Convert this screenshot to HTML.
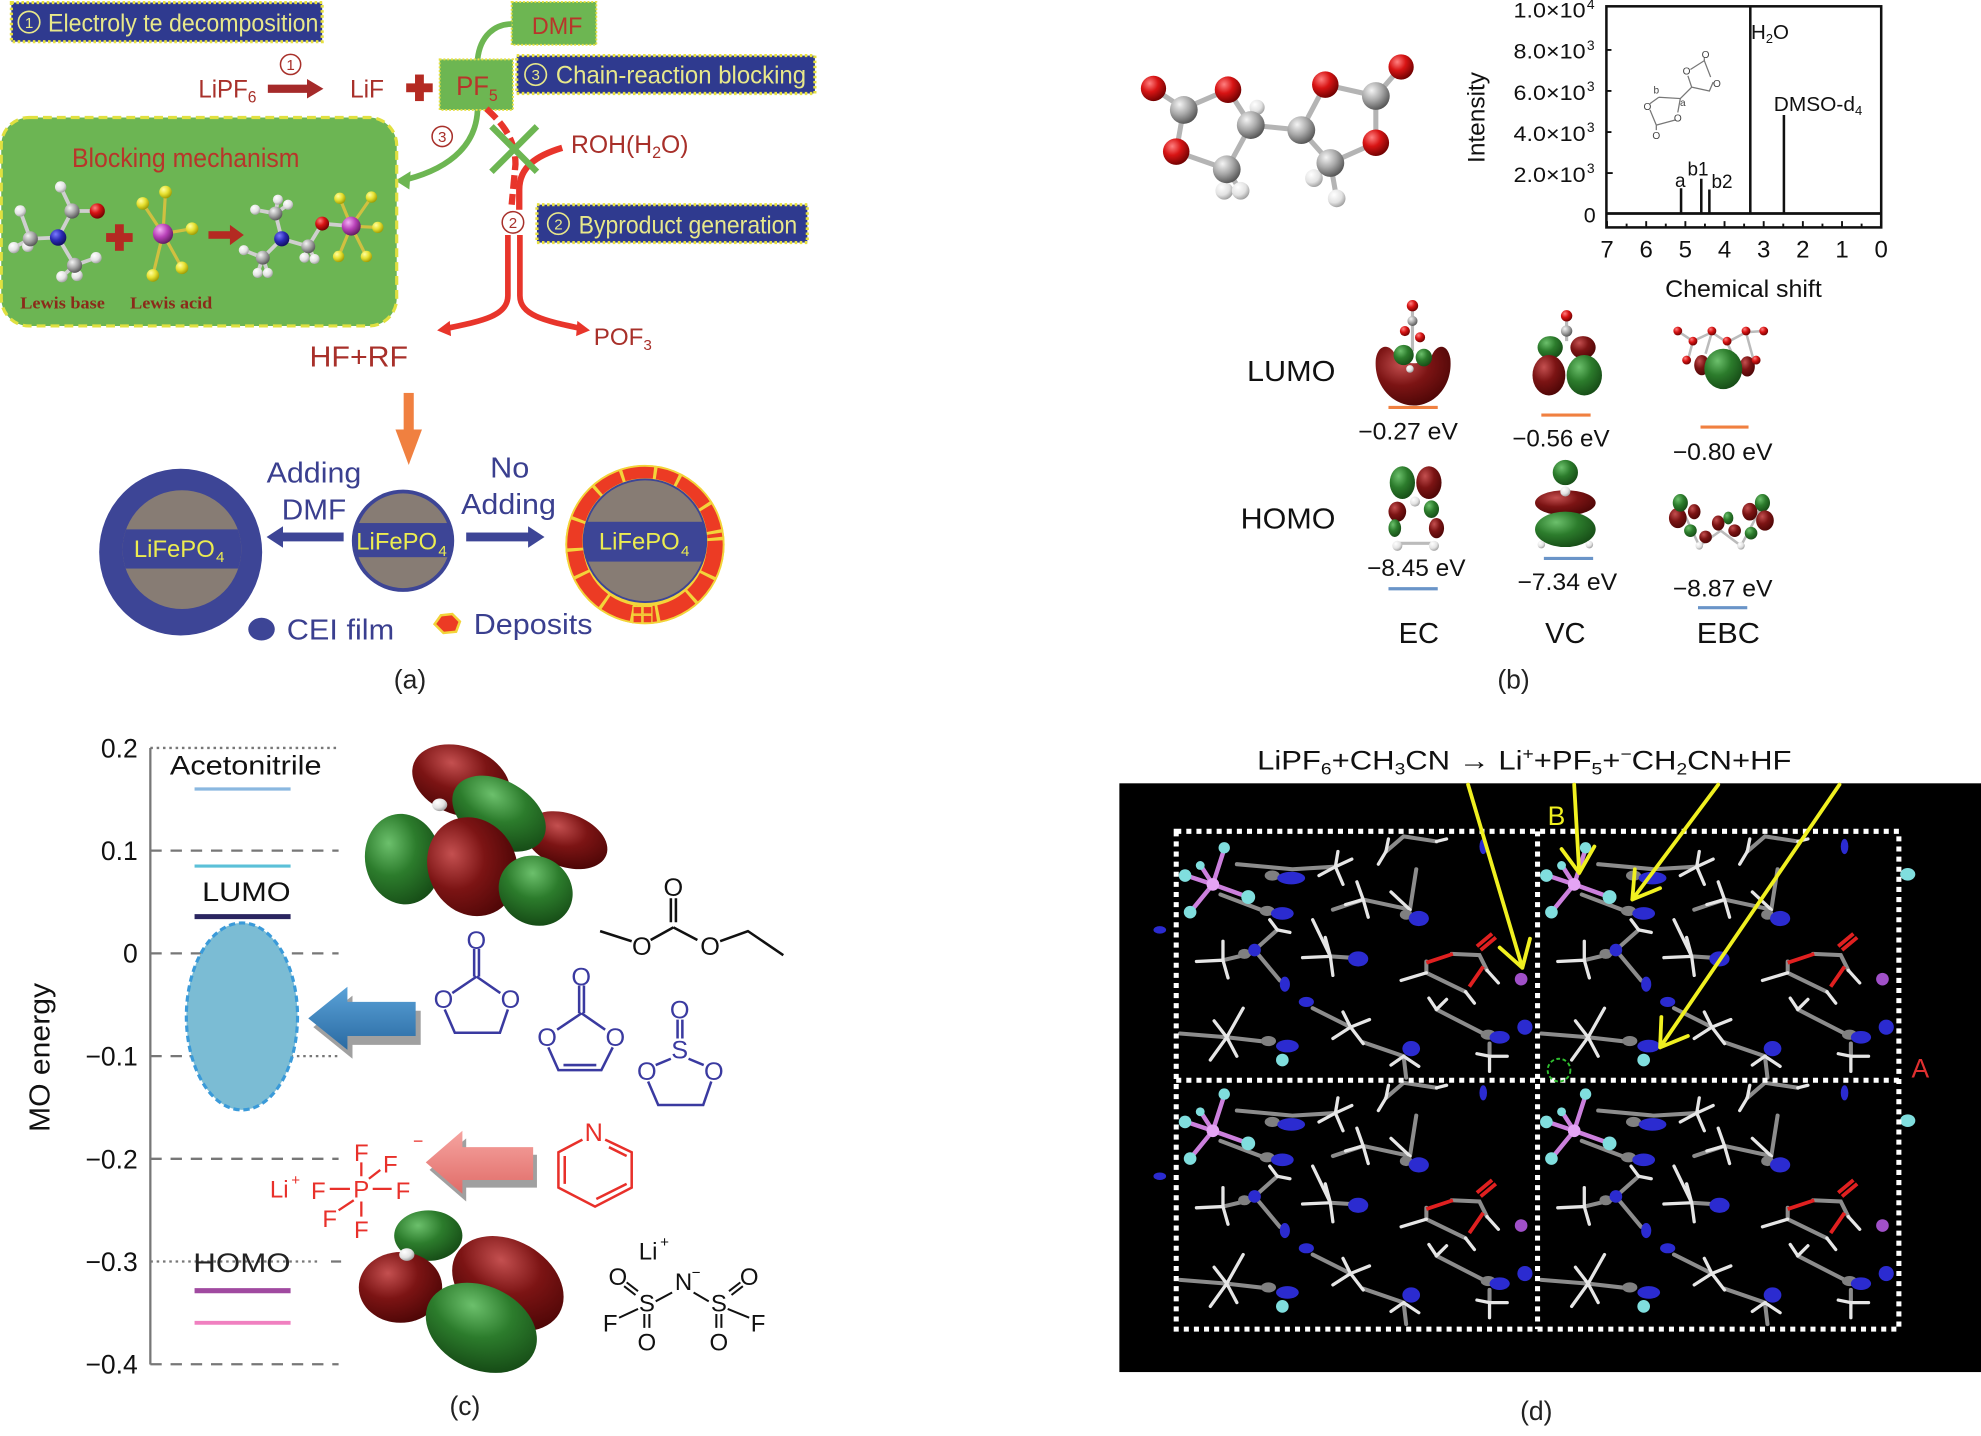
<!DOCTYPE html>
<html><head><meta charset="utf-8">
<style>
html,body{margin:0;padding:0;background:#fff;}
svg{display:block;}
text{font-family:"Liberation Sans",Arial,sans-serif;}
</style></head><body>
<svg width="1981" height="1436" viewBox="0 0 1568 1136.6" preserveAspectRatio="none" xmlns="http://www.w3.org/2000/svg">
<defs>
<radialGradient id="bR" cx="0.35" cy="0.3" r="0.75"><stop offset="0" stop-color="#ff8080"/><stop offset="0.45" stop-color="#d81414"/><stop offset="1" stop-color="#6a0000"/></radialGradient>
<radialGradient id="bG" cx="0.35" cy="0.3" r="0.75"><stop offset="0" stop-color="#f4f4f4"/><stop offset="0.5" stop-color="#a8a8a8"/><stop offset="1" stop-color="#505050"/></radialGradient>
<radialGradient id="bW" cx="0.35" cy="0.3" r="0.75"><stop offset="0" stop-color="#ffffff"/><stop offset="0.6" stop-color="#e2e2e2"/><stop offset="1" stop-color="#9a9a9a"/></radialGradient>
<radialGradient id="bY" cx="0.35" cy="0.3" r="0.75"><stop offset="0" stop-color="#ffffa0"/><stop offset="0.5" stop-color="#e6e030"/><stop offset="1" stop-color="#9a9600"/></radialGradient>
<radialGradient id="bM" cx="0.35" cy="0.3" r="0.75"><stop offset="0" stop-color="#f4b0f4"/><stop offset="0.5" stop-color="#b840b8"/><stop offset="1" stop-color="#5a1a5a"/></radialGradient>
<radialGradient id="bB" cx="0.35" cy="0.3" r="0.75"><stop offset="0" stop-color="#7a7aff"/><stop offset="0.5" stop-color="#2a2ab4"/><stop offset="1" stop-color="#0e0e5a"/></radialGradient>
<radialGradient id="oR" cx="0.35" cy="0.3" r="0.8"><stop offset="0" stop-color="#c45050"/><stop offset="0.45" stop-color="#7c1414"/><stop offset="1" stop-color="#460404"/></radialGradient>
<radialGradient id="oG" cx="0.35" cy="0.3" r="0.8"><stop offset="0" stop-color="#6cc06c"/><stop offset="0.45" stop-color="#2c7c2c"/><stop offset="1" stop-color="#134513"/></radialGradient>
<linearGradient id="aBlue" x1="0" y1="0" x2="0" y2="1"><stop offset="0" stop-color="#5aa2d8"/><stop offset="1" stop-color="#2a6aa2"/></linearGradient>
<linearGradient id="aPink" x1="0" y1="0" x2="0" y2="1"><stop offset="0" stop-color="#f6a4a0"/><stop offset="1" stop-color="#e06c68"/></linearGradient>
<clipPath id="cpMid"><circle cx="319" cy="428" r="38"/></clipPath>
<clipPath id="cpRight"><circle cx="510.5" cy="428" r="48.5"/></clipPath>
<clipPath id="cpLeft"><circle cx="144" cy="435" r="47"/></clipPath>

<g id="cell">
 <g stroke="#8c8c8c" stroke-width="3.2" stroke-linecap="round" fill="none">
  <path d="M48 26 L92 30 L126 28 M35 50 L72 64 M166 16 L180 4 L206 8 M124 62 L148 54 L185 62 M190 30 L185 62 M37 102 L58 97 M62 94 L80 78 M62 94 L82 118 M3 160 L40 163 L75 167 M108 140 L138 155 M148 167 L180 178 L182 195 M206 141 L243 160 M248 178 L248 168 M198 112 L229 127 M218 97 L240 98 L246 110 M198 103 L198 112 M122 99 L138 100"/>
 </g>
 <g stroke="#e6e6e6" stroke-width="2.6" stroke-linecap="round" fill="none">
  <path d="M126 28 L139 22 M126 28 L128 16 M126 28 L132 42 M126 28 L113 35 M166 16 L160 26 M166 16 L168 6 M206 8 L214 6 M148 54 L143 40 M148 54 L152 68 M148 54 L134 58 M185 62 L170 48 M37 102 L16 103 M37 102 L37 87 M37 102 L41 116 M80 78 L90 80 M80 78 L74 70 M122 99 L108 70 M122 99 L100 100 M122 99 L124 114 M122 99 L118 84 M40 163 L53 140 M40 163 L27 181 M40 163 L48 178 M40 163 L30 150 M138 155 L153 149 M138 155 L124 164 M138 155 L148 168 M138 155 L132 143 M198 112 L178 118 M229 127 L236 136 M246 110 L255 120 M206 141 L200 132 M206 141 L214 133 M248 178 L238 176 M248 178 L262 178 M248 178 L248 190 M180 178 L170 185 M180 178 L192 186"/>
 </g>
 <path d="M198 104 L219 97 M243 107 L232 123 M238 91 L250 81 M241 94 L253 84" stroke="#e02020" stroke-width="3" fill="none"/>
 <path d="M29 42 L38 14 M29 42 L8 35 M29 42 L57 52 M29 42 L11 64 M29 42 L20 28" stroke="#cc80dd" stroke-width="3.5" fill="none"/>
 <circle cx="29" cy="42" r="5" fill="#e4a4f4"/>
 <g fill="#80dede">
  <circle cx="38" cy="13" r="4.5"/><circle cx="7" cy="35" r="5"/><circle cx="57" cy="52" r="5.5"/><circle cx="11" cy="64" r="5"/><circle cx="19" cy="27" r="3.5"/><circle cx="84" cy="181" r="5"/>
 </g>
 <g fill="#808080">
  <ellipse cx="76" cy="35" rx="6" ry="4"/><ellipse cx="72" cy="63" rx="6" ry="4"/><ellipse cx="54" cy="97" rx="5" ry="4"/><ellipse cx="73" cy="166" rx="6" ry="4"/><ellipse cx="247" cy="161" rx="6" ry="4"/><ellipse cx="182" cy="66" rx="5" ry="4"/>
 </g>
 <g fill="#2b2bd0">
  <ellipse cx="91" cy="37" rx="11" ry="5"/><ellipse cx="84" cy="65" rx="9" ry="5"/><ellipse cx="192" cy="69" rx="8" ry="6"/><ellipse cx="62" cy="94" rx="5" ry="5"/><ellipse cx="86" cy="121" rx="4" ry="6"/><ellipse cx="144" cy="101" rx="8" ry="6"/><ellipse cx="88" cy="170" rx="9" ry="5"/><ellipse cx="103" cy="135" rx="6" ry="4"/><ellipse cx="186" cy="172" rx="7" ry="6"/><ellipse cx="256" cy="163" rx="8" ry="5"/><ellipse cx="276" cy="155" rx="6" ry="6"/><ellipse cx="243" cy="12" rx="3" ry="6"/>
 </g>
 <circle cx="273" cy="117" r="5" fill="#a050c8"/>
</g>
</defs>

<!-- ================= PANEL (a) ================= -->
<rect x="9" y="2" width="246" height="31" fill="#2f3a8f" stroke="#e6e040" stroke-width="2.5" stroke-dasharray="2 2"/>
<circle cx="23" cy="17.5" r="8.5" fill="none" stroke="#e8e88a" stroke-width="1.3"/>
<text x="23" y="22" font-size="12" fill="#e8e88a" text-anchor="middle">1</text>
<text x="38" y="25" font-size="20" fill="#e8e88a" textLength="214" lengthAdjust="spacingAndGlyphs">Electroly te decomposition</text>

<rect x="405" y="1.5" width="67" height="34" fill="#6db652" stroke="#e6e040" stroke-width="1.5" stroke-dasharray="1.5 1.5"/>
<text x="421" y="27" font-size="19" fill="#b8352a" textLength="40" lengthAdjust="spacingAndGlyphs">DMF</text>

<rect x="409" y="44" width="236" height="30" fill="#2f3a8f" stroke="#e6e040" stroke-width="2.5" stroke-dasharray="2 2"/>
<circle cx="424" cy="59" r="8.5" fill="none" stroke="#e8e88a" stroke-width="1.3"/>
<text x="424" y="63.5" font-size="12" fill="#e8e88a" text-anchor="middle">3</text>
<text x="440" y="66" font-size="20" fill="#e8e88a" textLength="198" lengthAdjust="spacingAndGlyphs">Chain-reaction blocking</text>

<rect x="425" y="162" width="214" height="30" fill="#2f3a8f" stroke="#e6e040" stroke-width="2.5" stroke-dasharray="2 2"/>
<circle cx="442" cy="177" r="8.5" fill="none" stroke="#e8e88a" stroke-width="1.3"/>
<text x="442" y="181.5" font-size="12" fill="#e8e88a" text-anchor="middle">2</text>
<text x="458" y="185" font-size="20" fill="#e8e88a" textLength="173" lengthAdjust="spacingAndGlyphs">Byproduct generation</text>

<!-- green curves -->
<path d="M405 19 C392 19 380 28 378 47" stroke="#6db652" stroke-width="4.5" fill="none"/>
<path d="M378 87 C377 112 360 132 322 142" stroke="#6db652" stroke-width="4.5" fill="none"/>
<polygon points="313,143 325,135.5 324,150" fill="#6db652"/>

<rect x="348" y="47" width="58" height="40" fill="#6db652" stroke="#e6e040" stroke-width="1.5" stroke-dasharray="1.5 1.5"/>
<text x="361" y="75" font-size="21" fill="#b8352a" textLength="33" lengthAdjust="spacingAndGlyphs">PF<tspan font-size="13" dy="5">5</tspan></text>

<!-- LiPF6 -> LiF + -->
<text x="157" y="77" font-size="20" fill="#a8302a" textLength="46" lengthAdjust="spacingAndGlyphs">LiPF<tspan font-size="13" dy="4">6</tspan></text>
<rect x="212" y="67" width="32" height="6.5" fill="#a52a2a"/>
<polygon points="243,62.5 256,70.2 243,78" fill="#a52a2a"/>
<circle cx="230" cy="51" r="8" fill="none" stroke="#a8302a" stroke-width="1.2"/>
<text x="230" y="55.5" font-size="12" fill="#a8302a" text-anchor="middle">1</text>
<text x="277" y="77" font-size="20" fill="#a8302a" textLength="27" lengthAdjust="spacingAndGlyphs">LiF</text>
<rect x="328.5" y="59" width="7" height="21" fill="#b42a22"/>
<rect x="321.5" y="66" width="21" height="7" fill="#b42a22"/>

<!-- red dashed + X -->
<path d="M385 86 C398 98 408 110 408 130 L405 162" stroke="#e8352b" stroke-width="5" fill="none" stroke-dasharray="11 4"/>
<path d="M445 117 C425 123 411 132 411 150 L411 166" stroke="#e8352b" stroke-width="5" fill="none"/>
<path d="M389 100 L425 136 M425 100 L389 136" stroke="#6db652" stroke-width="5" fill="none"/>
<text x="452" y="121" font-size="20" fill="#a8302a" textLength="93" lengthAdjust="spacingAndGlyphs">ROH(H<tspan font-size="13" dy="4">2</tspan><tspan dy="-4">O)</tspan></text>
<circle cx="350" cy="108" r="8" fill="none" stroke="#a8302a" stroke-width="1.2"/>
<text x="350" y="112.5" font-size="12" fill="#a8302a" text-anchor="middle">3</text>

<!-- red forked lines -->
<path d="M402 186 L402 234 C402 250 382 254 353 260" stroke="#e8352b" stroke-width="4.5" fill="none"/>
<path d="M411.5 186 L411.5 234 C411.5 250 432 254 460 260" stroke="#e8352b" stroke-width="4.5" fill="none"/>
<polygon points="346,261.5 356,254 357,266" fill="#e8352b"/>
<polygon points="467,261.5 457,254 456,266" fill="#e8352b"/>
<circle cx="406" cy="176" r="8.5" fill="#fff" stroke="#a8302a" stroke-width="1.2"/>
<text x="406" y="180.5" font-size="12" fill="#a8302a" text-anchor="middle">2</text>
<text x="470" y="273" font-size="19" fill="#a8302a" textLength="46" lengthAdjust="spacingAndGlyphs">POF<tspan font-size="12" dy="4">3</tspan></text>
<text x="245" y="290" font-size="23" fill="#a8302a" textLength="78" lengthAdjust="spacingAndGlyphs">HF+RF</text>

<!-- blocking mechanism box -->
<rect x="1" y="93" width="313" height="165" rx="22" fill="#6cb553" stroke="#e0e040" stroke-width="2.5" stroke-dasharray="7 4"/>
<text x="57" y="132" font-size="21" fill="#b8352a" textLength="180" lengthAdjust="spacingAndGlyphs">Blocking mechanism</text>
<!-- lewis base -->
<g stroke="#cfcfcf" stroke-width="3" fill="none">
 <path d="M46 188 L57 167 M46 188 L24 189 M46 188 L59 210 M57 167 L77 167 M57 167 L48 148 M24 189 L16 167 M24 189 L11 196 M24 189 L22 195 M59 210 L76 204 M59 210 L49 219 M59 210 L61 218"/>
</g>
<circle cx="48" cy="148" r="4.5" fill="url(#bW)"/><circle cx="16" cy="167" r="4.5" fill="url(#bW)"/><circle cx="11" cy="196" r="4.5" fill="url(#bW)"/><circle cx="22" cy="195" r="4.5" fill="url(#bW)"/>
<circle cx="76" cy="204" r="4.5" fill="url(#bW)"/><circle cx="49" cy="219" r="4.5" fill="url(#bW)"/><circle cx="61" cy="218" r="4.5" fill="url(#bW)"/>
<circle cx="24" cy="189" r="6" fill="url(#bG)"/><circle cx="57" cy="167" r="6" fill="url(#bG)"/><circle cx="59" cy="210" r="6" fill="url(#bG)"/>
<circle cx="77" cy="167" r="6" fill="url(#bR)"/><circle cx="46" cy="188" r="6.5" fill="url(#bB)"/>
<rect x="91" y="177.5" width="7" height="21" fill="#b42a22"/><rect x="84" y="184.5" width="21" height="7" fill="#b42a22"/>
<!-- lewis acid -->
<g stroke="#d0c040" stroke-width="2.5" fill="none"><path d="M129 185 L113 161 M129 185 L131 152 M129 185 L152 181 M129 185 L144 212 M129 185 L121 218"/></g>
<circle cx="113" cy="161" r="5" fill="url(#bY)"/><circle cx="131" cy="152" r="5" fill="url(#bY)"/><circle cx="152" cy="181" r="5" fill="url(#bY)"/><circle cx="144" cy="212" r="5" fill="url(#bY)"/><circle cx="121" cy="218" r="5" fill="url(#bY)"/>
<circle cx="129" cy="185" r="8" fill="url(#bM)"/>
<rect x="165" y="183" width="18" height="6" fill="#b42a22"/><polygon points="182,178 193,186 182,194" fill="#b42a22"/>
<!-- product -->
<g stroke="#cfcfcf" stroke-width="3" fill="none">
 <path d="M223 189 L218 169 M223 189 L208 204 M223 189 L244 195 M244 195 L255 177 M255 177 L278 179 M218 169 L202 166 M218 169 L220 158 M218 169 L228 162 M208 204 L193 198 M208 204 L204 216 M208 204 L212 216 M244 195 L241 204 M244 195 L249 205"/>
</g>
<g stroke="#d0c040" stroke-width="2.5" fill="none"><path d="M278 179 L269 157 M278 179 L294 156 M278 179 L299 180 M278 179 L290 203 M278 179 L268 203"/></g>
<circle cx="202" cy="166" r="4" fill="url(#bW)"/><circle cx="220" cy="158" r="4" fill="url(#bW)"/><circle cx="228" cy="162" r="4" fill="url(#bW)"/><circle cx="193" cy="198" r="4" fill="url(#bW)"/><circle cx="204" cy="216" r="4" fill="url(#bW)"/><circle cx="212" cy="216" r="4" fill="url(#bW)"/><circle cx="241" cy="204" r="4" fill="url(#bW)"/><circle cx="249" cy="205" r="4" fill="url(#bW)"/>
<circle cx="218" cy="169" r="5.5" fill="url(#bG)"/><circle cx="208" cy="204" r="5.5" fill="url(#bG)"/><circle cx="244" cy="195" r="5.5" fill="url(#bG)"/>
<circle cx="223" cy="189" r="6" fill="url(#bB)"/><circle cx="255" cy="177" r="5.5" fill="url(#bR)"/>
<circle cx="269" cy="157" r="4.5" fill="url(#bY)"/><circle cx="294" cy="156" r="4.5" fill="url(#bY)"/><circle cx="299" cy="180" r="4.5" fill="url(#bY)"/><circle cx="290" cy="203" r="4.5" fill="url(#bY)"/><circle cx="268" cy="203" r="4.5" fill="url(#bY)"/>
<circle cx="278" cy="179" r="7.5" fill="url(#bM)"/>
<text x="16" y="244" font-size="13" font-weight="bold" fill="#8b2a1a" style="font-family:'Liberation Serif',serif" textLength="67" lengthAdjust="spacingAndGlyphs">Lewis base</text>
<text x="103" y="244" font-size="13" font-weight="bold" fill="#8b2a1a" style="font-family:'Liberation Serif',serif" textLength="65" lengthAdjust="spacingAndGlyphs">Lewis acid</text>

<!-- orange arrow -->
<rect x="319.5" y="311" width="8" height="31" fill="#f08040"/>
<polygon points="313,340 334,340 323.5,368" fill="#f08040"/>

<!-- particles -->
<ellipse cx="143" cy="437" rx="64.5" ry="66" fill="#3d4596"/>
<circle cx="144" cy="435" r="47" fill="#877c74"/>
<rect x="96" y="419" width="96" height="31" fill="#3d4596" clip-path="url(#cpLeft)"/>
<text x="106" y="441" font-size="19" fill="#ecec50" textLength="64" lengthAdjust="spacingAndGlyphs">LiFePO</text>
<text x="171" y="445" font-size="12" fill="#ecec50">4</text>

<circle cx="319" cy="428" r="39" fill="#877c74" stroke="#3d4596" stroke-width="3"/>
<rect x="280" y="414" width="78" height="27" fill="#3d4596" clip-path="url(#cpMid)"/>
<text x="282" y="435" font-size="19" fill="#ecec50" textLength="64" lengthAdjust="spacingAndGlyphs">LiFePO</text>
<text x="347" y="440" font-size="12" fill="#ecec50">4</text>

<circle cx="510.5" cy="431" r="63" fill="#f3d43a"/>
<circle cx="510.5" cy="431" r="55.5" fill="none" stroke="#ec3b24" stroke-width="13" stroke-dasharray="24 2.5 19 2.5 28 2.5 17 2.5 22 2.5 26 2.5 18 2.5 21 2.5 25 2.5 20 2.5 23 2.5 16 2.5 27 2.5 19 2.5 3 2.5"/>
<circle cx="510.5" cy="431" r="62.3" fill="none" stroke="#f3d43a" stroke-width="1.5"/>
<circle cx="510.5" cy="428" r="49.5" fill="#f3d43a"/>
<circle cx="510.5" cy="428" r="48.5" fill="#877c74" stroke="#3d4596" stroke-width="1.5"/>
<rect x="460" y="413" width="102" height="31.5" fill="#3d4596" clip-path="url(#cpRight)"/>
<text x="474" y="435" font-size="19" fill="#ecec50" textLength="64" lengthAdjust="spacingAndGlyphs">LiFePO</text>
<text x="539" y="440" font-size="12" fill="#ecec50">4</text>
<g fill="#ec3b24" stroke="#f3d43a" stroke-width="1"><rect x="501" y="480" width="7" height="6"/><rect x="509" y="480" width="7" height="6"/><rect x="501" y="487" width="7" height="6"/><rect x="509" y="487" width="7" height="6"/></g>

<rect x="222" y="421.5" width="50" height="7" fill="#3d4596"/>
<polygon points="211,425 224,416.5 224,433.5" fill="#3d4596"/>
<rect x="369" y="421.5" width="51" height="7" fill="#3d4596"/>
<polygon points="431,425 418,416.5 418,433.5" fill="#3d4596"/>

<text x="211" y="382" font-size="23" fill="#3a3f8f" textLength="75" lengthAdjust="spacingAndGlyphs">Adding</text>
<text x="223" y="411" font-size="23" fill="#3a3f8f" textLength="51" lengthAdjust="spacingAndGlyphs">DMF</text>
<text x="388" y="378" font-size="23" fill="#3a3f8f" textLength="31" lengthAdjust="spacingAndGlyphs">No</text>
<text x="365" y="407" font-size="23" fill="#3a3f8f" textLength="75" lengthAdjust="spacingAndGlyphs">Adding</text>

<ellipse cx="207" cy="498" rx="10.5" ry="9" fill="#3d4596"/>
<text x="227" y="506" font-size="23" fill="#3a3f8f" textLength="85" lengthAdjust="spacingAndGlyphs">CEI film</text>
<path d="M344 494 L349 487 L358 486 L364 492 L361 500 L351 501 Z" fill="#ec3b24" stroke="#f3d43a" stroke-width="2"/>
<text x="375" y="502" font-size="23" fill="#3a3f8f" textLength="94" lengthAdjust="spacingAndGlyphs">Deposits</text>
<text x="324.5" y="545" font-size="21" fill="#222" text-anchor="middle">(a)</text>

<!-- ================= PANEL (b) ================= -->
<!-- 3D molecule -->
<g stroke="#b4b4b4" stroke-width="4" fill="none" stroke-linecap="round">
 <path d="M913 70 L937 86 L972 71 L990 99 L971 134 L931 120 L937 86 M990 99 L1030 103 L1049 67 L1089 76 L1109 53 M1089 76 L1089 113 L1053 129 L1030 103 M990 99 L995 86 M971 134 L969 151 M971 134 L982 151 M1053 129 L1040 141 M1053 129 L1058 157"/>
</g>
<circle cx="969" cy="151" r="7" fill="url(#bW)"/><circle cx="982" cy="151" r="7" fill="url(#bW)"/><circle cx="1040" cy="141" r="7" fill="url(#bW)"/><circle cx="1058" cy="157" r="7" fill="url(#bW)"/><circle cx="995" cy="85" r="6" fill="url(#bW)"/>
<circle cx="913" cy="70" r="10" fill="url(#bR)"/>
<circle cx="937" cy="87" r="11" fill="url(#bG)"/>
<circle cx="972" cy="71" r="10.5" fill="url(#bR)"/>
<circle cx="931" cy="120" r="10.5" fill="url(#bR)"/>
<circle cx="971" cy="134" r="11" fill="url(#bG)"/>
<circle cx="990" cy="99" r="11" fill="url(#bG)"/>
<circle cx="1030" cy="103" r="11" fill="url(#bG)"/>
<circle cx="1049" cy="67" r="10.5" fill="url(#bR)"/>
<circle cx="1089" cy="76" r="11" fill="url(#bG)"/>
<circle cx="1109" cy="53" r="10" fill="url(#bR)"/>
<circle cx="1089" cy="113" r="10.5" fill="url(#bR)"/>
<circle cx="1053" cy="129" r="11" fill="url(#bG)"/>

<!-- NMR -->
<rect x="1271.5" y="5" width="217.5" height="175" fill="none" stroke="#111" stroke-width="2"/>
<line x1="1271.5" y1="169" x2="1489" y2="169" stroke="#111" stroke-width="2.2"/>
<path d="M1330.6 169V149 M1346.6 169V141.5 M1353 169V150 M1385.4 169V5 M1412 169V91" stroke="#111" stroke-width="2" fill="none"/>
<path d="M1272 180v-5 M1303 180v-5 M1334 180v-5 M1365 180v-5 M1396 180v-5 M1427 180v-5 M1458 180v-5 M1489 180v-5 M1287.5 180v-3 M1318.5 180v-3 M1349.5 180v-3 M1380.5 180v-3 M1411.5 180v-3 M1442.5 180v-3 M1473.5 180v-3 M1271.5 137h5 M1271.5 104.5h4 M1271.5 72h4 M1271.5 39.5h4" stroke="#111" stroke-width="1.5" fill="none"/>
<g font-size="17" fill="#111">
 <text x="1198" y="14" textLength="57" lengthAdjust="spacingAndGlyphs">1.0×10</text><text x="1256" y="7" font-size="11">4</text>
 <text x="1198" y="46.5" textLength="57" lengthAdjust="spacingAndGlyphs">8.0×10</text><text x="1256" y="39.5" font-size="11">3</text>
 <text x="1198" y="79" textLength="57" lengthAdjust="spacingAndGlyphs">6.0×10</text><text x="1256" y="72" font-size="11">3</text>
 <text x="1198" y="111.5" textLength="57" lengthAdjust="spacingAndGlyphs">4.0×10</text><text x="1256" y="104.5" font-size="11">3</text>
 <text x="1198" y="144" textLength="57" lengthAdjust="spacingAndGlyphs">2.0×10</text><text x="1256" y="137" font-size="11">3</text>
 <text x="1263" y="176" text-anchor="end">0</text>
</g>
<text transform="translate(1175,93) rotate(-90)" font-size="19" fill="#111" text-anchor="middle" textLength="72" lengthAdjust="spacingAndGlyphs">Intensity</text>
<g font-size="19" fill="#111" text-anchor="middle">
 <text x="1272" y="204">7</text><text x="1303" y="204">6</text><text x="1334" y="204">5</text><text x="1365" y="204">4</text><text x="1396" y="204">3</text><text x="1427" y="204">2</text><text x="1458" y="204">1</text><text x="1489" y="204">0</text>
</g>
<text x="1318" y="235" font-size="19" fill="#111" textLength="124" lengthAdjust="spacingAndGlyphs">Chemical shift</text>
<text x="1330" y="148" font-size="15" fill="#111" text-anchor="middle">a</text>
<text x="1344" y="139" font-size="15" fill="#111" text-anchor="middle">b1</text>
<text x="1363" y="149" font-size="15" fill="#111" text-anchor="middle">b2</text>
<text x="1386" y="31" font-size="16" fill="#111" textLength="30" lengthAdjust="spacingAndGlyphs">H<tspan font-size="10" dy="3">2</tspan><tspan dy="-3">O</tspan></text>
<text x="1404" y="88" font-size="16" fill="#111" textLength="70" lengthAdjust="spacingAndGlyphs">DMSO-d<tspan font-size="10" dy="3">4</tspan></text>
<!-- inset structure -->
<g stroke="#777" stroke-width="1" fill="none">
 <path d="M1313 77 L1330 78 L1328 89 M1313 77 L1306 82 M1306 87 L1311 99 L1326 95 M1311 99 L1311 103 M1330 78 L1339 69 L1336 60 M1339 69 L1353 72 L1356 65 M1338 55 L1349 48 L1354 61 M1349 48 L1349 46"/>
</g>
<g font-size="8" fill="#444" text-anchor="middle">
 <text x="1350" y="46">O</text><text x="1335" y="59">O</text><text x="1359" y="69">O</text><text x="1311" y="74">b</text><text x="1304" y="87">O</text><text x="1332" y="84">a</text><text x="1328" y="96">O</text><text x="1311" y="110">O</text>
</g>

<!-- LUMO / HOMO -->
<text x="987" y="301.5" font-size="23" fill="#111" textLength="70" lengthAdjust="spacingAndGlyphs">LUMO</text>
<text x="982" y="418.5" font-size="23" fill="#111" textLength="75" lengthAdjust="spacingAndGlyphs">HOMO</text>

<!-- EC LUMO -->
<line x1="1118" y1="242" x2="1118" y2="278" stroke="#bbb" stroke-width="2.5"/>
<path d="M1089 284 C1087 306 1103 321 1119 321 C1135 321 1150 306 1148 284 C1146 272 1138 272 1134 280 C1130 290 1108 290 1104 280 C1100 272 1091 272 1089 284 Z" fill="url(#oR)"/>
<ellipse cx="1111" cy="281" rx="8" ry="8" fill="url(#oG)"/><ellipse cx="1127" cy="283" rx="6.5" ry="7" fill="url(#oG)"/>
<circle cx="1118" cy="242" r="4.5" fill="url(#bR)"/><circle cx="1118" cy="254" r="4" fill="url(#bG)"/><circle cx="1112" cy="262" r="4" fill="url(#bR)"/><circle cx="1124" cy="267" r="4" fill="url(#bR)"/><circle cx="1116" cy="292" r="3" fill="url(#bW)"/>
<line x1="1099" y1="322.5" x2="1138" y2="322.5" stroke="#f08040" stroke-width="2.5"/>
<text x="1075" y="348" font-size="19" fill="#111" textLength="79" lengthAdjust="spacingAndGlyphs">−0.27 eV</text>

<!-- VC LUMO -->
<line x1="1240" y1="250" x2="1240" y2="270" stroke="#bbb" stroke-width="2.5"/>
<ellipse cx="1227" cy="275" rx="10" ry="9" fill="url(#oG)"/><ellipse cx="1253" cy="275" rx="10" ry="9" fill="url(#oR)"/>
<ellipse cx="1226" cy="297" rx="13" ry="16" fill="url(#oR)"/><ellipse cx="1254" cy="297" rx="14" ry="16" fill="url(#oG)"/>
<circle cx="1240" cy="250" r="4.5" fill="url(#bR)"/><circle cx="1240" cy="262" r="4.5" fill="url(#bG)"/>
<line x1="1220" y1="328.5" x2="1259" y2="328.5" stroke="#f08040" stroke-width="2.5"/>
<text x="1197" y="353.5" font-size="19" fill="#111" textLength="77" lengthAdjust="spacingAndGlyphs">−0.56 eV</text>

<!-- EBC LUMO -->
<g stroke="#bbb" stroke-width="2" fill="none"><path d="M1328 262 L1340 270 L1355 263 L1367 271 L1382 263 L1396 262 M1340 270 L1336 285 M1382 263 L1388 285 M1355 263 L1350 280 M1367 271 L1372 282"/></g>
<ellipse cx="1347" cy="289" rx="6" ry="8" fill="url(#oR)"/><ellipse cx="1383" cy="290" rx="6" ry="8" fill="url(#oR)"/>
<ellipse cx="1364" cy="292" rx="15" ry="16" fill="url(#oG)"/>
<g fill="url(#bR)"><circle cx="1328" cy="262" r="3.5"/><circle cx="1340" cy="270" r="3.5"/><circle cx="1355" cy="262" r="3.5"/><circle cx="1367" cy="270" r="3.5"/><circle cx="1382" cy="262" r="3.5"/><circle cx="1396" cy="262" r="3.5"/><circle cx="1335" cy="285" r="3.5"/><circle cx="1390" cy="285" r="3.5"/></g>
<line x1="1346" y1="338" x2="1384" y2="338" stroke="#f08040" stroke-width="2.5"/>
<text x="1324" y="364" font-size="19" fill="#111" textLength="79" lengthAdjust="spacingAndGlyphs">−0.80 eV</text>

<!-- EC HOMO -->
<ellipse cx="1110" cy="382" rx="10" ry="13" fill="url(#oG)"/><ellipse cx="1131" cy="382" rx="10" ry="13" fill="url(#oR)"/>
<line x1="1106" y1="430" x2="1135" y2="430" stroke="#bbb" stroke-width="2.5"/>
<ellipse cx="1106" cy="405" rx="7" ry="8" fill="url(#oR)"/><ellipse cx="1133" cy="403" rx="6" ry="7" fill="url(#oG)"/>
<ellipse cx="1104" cy="418" rx="5" ry="7" fill="url(#oG)"/><ellipse cx="1137" cy="418" rx="6" ry="8" fill="url(#oR)"/>
<circle cx="1120" cy="397" r="4" fill="url(#bW)"/><circle cx="1106" cy="432" r="4" fill="url(#bW)"/><circle cx="1135" cy="432" r="4" fill="url(#bW)"/>
<text x="1082" y="456" font-size="19" fill="#111" textLength="78" lengthAdjust="spacingAndGlyphs">−8.45 eV</text>
<line x1="1099" y1="466" x2="1138" y2="466" stroke="#6a94c8" stroke-width="2.5"/>

<!-- VC HOMO -->
<ellipse cx="1239" cy="398" rx="24" ry="10" fill="url(#oR)"/>
<ellipse cx="1239" cy="419" rx="24" ry="14" fill="url(#oG)"/>
<circle cx="1239" cy="374" r="10" fill="url(#oG)"/>
<circle cx="1239" cy="389" r="4" fill="url(#bW)"/><circle cx="1220" cy="431" r="3" fill="url(#bW)"/><circle cx="1258" cy="431" r="3" fill="url(#bW)"/>
<line x1="1222" y1="442" x2="1261" y2="442" stroke="#6a94c8" stroke-width="2.5"/>
<text x="1201" y="467" font-size="19" fill="#111" textLength="79" lengthAdjust="spacingAndGlyphs">−7.34 eV</text>

<!-- EBC HOMO -->
<g stroke="#bbb" stroke-width="2" fill="none"><path d="M1330 400 L1345 432 L1362 420 L1378 432 L1395 400"/></g>
<ellipse cx="1328" cy="410" rx="7" ry="8" fill="url(#oR)"/><ellipse cx="1330" cy="398" rx="6" ry="7" fill="url(#oG)"/>
<ellipse cx="1341" cy="405" rx="5" ry="6" fill="url(#oR)"/><ellipse cx="1338" cy="420" rx="5" ry="5" fill="url(#oG)"/>
<ellipse cx="1350" cy="425" rx="5" ry="5" fill="url(#oR)"/><ellipse cx="1360" cy="414" rx="5" ry="6" fill="url(#oR)"/>
<ellipse cx="1368" cy="410" rx="4" ry="5" fill="url(#oG)"/><ellipse cx="1373" cy="420" rx="5" ry="5" fill="url(#oR)"/>
<ellipse cx="1385" cy="405" rx="6" ry="7" fill="url(#oR)"/><ellipse cx="1395" cy="398" rx="6" ry="7" fill="url(#oG)"/>
<ellipse cx="1397" cy="412" rx="7" ry="8" fill="url(#oR)"/><ellipse cx="1386" cy="422" rx="5" ry="5" fill="url(#oG)"/>
<circle cx="1345" cy="432" r="3" fill="url(#bW)"/><circle cx="1378" cy="432" r="3" fill="url(#bW)"/>
<text x="1324" y="472" font-size="19" fill="#111" textLength="79" lengthAdjust="spacingAndGlyphs">−8.87 eV</text>
<line x1="1344" y1="481" x2="1383" y2="481" stroke="#6a94c8" stroke-width="2.5"/>

<text x="1107" y="509" font-size="23" fill="#111" textLength="32" lengthAdjust="spacingAndGlyphs">EC</text>
<text x="1223" y="509" font-size="23" fill="#111" textLength="32" lengthAdjust="spacingAndGlyphs">VC</text>
<text x="1343" y="509" font-size="23" fill="#111" textLength="50" lengthAdjust="spacingAndGlyphs">EBC</text>
<text x="1198" y="545" font-size="21" fill="#222" text-anchor="middle">(b)</text>

<!-- ================= PANEL (c) ================= -->
<g stroke="#777" stroke-width="1.8" fill="none">
 <line x1="119" y1="592" x2="268" y2="592" stroke-dasharray="2 3"/>
 <line x1="119" y1="673.3" x2="268" y2="673.3" stroke-dasharray="9 7"/>
 <line x1="119" y1="754.6" x2="268" y2="754.6" stroke-dasharray="9 7"/>
 <line x1="119" y1="835.9" x2="150" y2="835.9" stroke-dasharray="9 7"/>
 <line x1="150" y1="835.9" x2="268" y2="835.9" stroke-dasharray="2 3"/>
 <line x1="119" y1="917.2" x2="268" y2="917.2" stroke-dasharray="9 7"/>
 <line x1="119" y1="998.5" x2="252" y2="998.5" stroke-dasharray="2 3"/>
 <line x1="262" y1="998.5" x2="270" y2="998.5"/>
 <line x1="119" y1="1079.8" x2="268" y2="1079.8" stroke-dasharray="9 7"/>
 <line x1="119" y1="592" x2="119" y2="1080"/>
</g>
<g font-size="21" fill="#111" text-anchor="end">
 <text x="109" y="599.5">0.2</text><text x="109" y="680.8">0.1</text><text x="109" y="762">0</text><text x="109" y="843.4">−0.1</text><text x="109" y="924.7">−0.2</text><text x="109" y="1006">−0.3</text><text x="109" y="1087.3">−0.4</text>
</g>
<text transform="translate(39,837) rotate(-90)" font-size="23" fill="#111" text-anchor="middle" textLength="118" lengthAdjust="spacingAndGlyphs">MO energy</text>
<text x="134.5" y="613" font-size="21" fill="#111" textLength="120" lengthAdjust="spacingAndGlyphs">Acetonitrile</text>
<line x1="154" y1="624.5" x2="230" y2="624.5" stroke="#8ab8e0" stroke-width="2.5"/>
<line x1="154" y1="685.5" x2="230" y2="685.5" stroke="#5bc0d8" stroke-width="2.5"/>
<text x="160" y="713" font-size="21" fill="#111" textLength="70" lengthAdjust="spacingAndGlyphs">LUMO</text>
<line x1="154" y1="725.5" x2="230" y2="725.5" stroke="#2a2560" stroke-width="4"/>
<ellipse cx="191.5" cy="804.5" rx="44" ry="74" fill="#7bbcd4" stroke="#3a9ad9" stroke-width="2.5" stroke-dasharray="5 3"/>
<text x="153" y="1007" font-size="21" fill="#222" textLength="77" lengthAdjust="spacingAndGlyphs">HOMO</text>
<line x1="154" y1="1021.6" x2="230" y2="1021.6" stroke="#a04aa0" stroke-width="4"/>
<line x1="154" y1="1047" x2="230" y2="1047" stroke="#f080c0" stroke-width="3"/>

<!-- blue arrow -->
<polygon points="244,806 275,781 275,793 329,793 329,820 275,820 275,831" fill="#a0a0a0" transform="translate(4,7)"/>
<polygon points="244,806 275,781 275,793 329,793 329,820 275,820 275,831" fill="url(#aBlue)"/>
<!-- pink arrow -->
<polygon points="337,920 366,895 366,908 422,908 422,934 366,934 366,945" fill="#a0a0a0" transform="translate(3,6)"/>
<polygon points="337,920 366,895 366,908 422,908 422,934 366,934 366,945" fill="url(#aPink)"/>

<!-- top orbital -->
<ellipse cx="365" cy="618" rx="40" ry="27" transform="rotate(20 365 618)" fill="url(#oR)"/>
<ellipse cx="319" cy="680" rx="30" ry="36" transform="rotate(-10 319 680)" fill="url(#oG)"/>
<ellipse cx="448" cy="665" rx="34" ry="21" transform="rotate(20 448 665)" fill="url(#oR)"/>
<ellipse cx="395" cy="644" rx="40" ry="26" transform="rotate(30 395 644)" fill="url(#oG)"/>
<ellipse cx="374" cy="686" rx="35" ry="40" transform="rotate(-25 374 686)" fill="url(#oR)"/>
<ellipse cx="424" cy="705" rx="30" ry="27" transform="rotate(30 424 705)" fill="url(#oG)"/>
<ellipse cx="348" cy="637" rx="6" ry="5" fill="url(#bW)"/>

<!-- bottom orbital -->
<ellipse cx="339" cy="978" rx="27" ry="20" fill="url(#oG)"/>
<ellipse cx="402" cy="1016" rx="47" ry="34" transform="rotate(30 402 1016)" fill="url(#oR)"/>
<ellipse cx="317" cy="1019" rx="33" ry="28" fill="url(#oR)"/>
<ellipse cx="381" cy="1051" rx="46" ry="33" transform="rotate(25 381 1051)" fill="url(#oG)"/>
<ellipse cx="322" cy="993" rx="6" ry="5" fill="url(#bW)"/>

<!-- DEC -->
<g stroke="#111" stroke-width="2" fill="none">
 <path d="M531 711 L531 730 M535 711 L535 730 M533 734 L515 744 M533 734 L552 744 M500 745 L475 737 M570 745 L592 737 L620 756"/>
</g>
<g font-size="20" fill="#111" text-anchor="middle">
 <text x="533" y="709">O</text><text x="508" y="756">O</text><text x="562" y="756">O</text>
</g>
<!-- EC -->
<g stroke="#3a3aa0" stroke-width="2" fill="none">
 <path d="M375.3 751 L375.3 773 M379.1 751 L379.1 773 M377.2 773 L358 786 M377.2 773 L396 786 M352 799 L360 817.4 L395.7 817.4 L402 799"/>
</g>
<g font-size="20" fill="#3a3aa0" text-anchor="middle">
 <text x="377" y="751">O</text><text x="351" y="798">O</text><text x="404" y="798">O</text>
</g>
<!-- VC -->
<g stroke="#3a3aa0" stroke-width="2" fill="none">
 <path d="M458.4 780 L458.4 802 M462.2 780 L462.2 802 M460.3 802 L441 815 M460.3 802 L479 815 M434 829 L442 847 L476 847 L485 829 M446 843 L472 843"/>
</g>
<g font-size="20" fill="#3a3aa0" text-anchor="middle">
 <text x="460" y="780">O</text><text x="433" y="828">O</text><text x="487" y="828">O</text>
</g>
<!-- ES -->
<g stroke="#3a3aa0" stroke-width="2" fill="none">
 <path d="M536.3 807 L536.3 822 M540.1 807 L540.1 822 M531 838 L519 843 M545 838 L557 843 M513 856 L521 874.6 L556.6 874.6 L563 856"/>
</g>
<g font-size="20" fill="#3a3aa0" text-anchor="middle">
 <text x="538" y="806">O</text><text x="538" y="838">S</text><text x="512" y="855">O</text><text x="565" y="855">O</text>
</g>
<!-- pyridine -->
<g stroke="#e8302a" stroke-width="2" fill="none">
 <path d="M479 902 L500 912 L500 940 L471 955 L442 940 L442 912 L461 902 M482 908 L496 915 M496 937 L472 949 M447 915 L447 937"/>
</g>
<text x="470" y="903" font-size="20" fill="#e8302a" text-anchor="middle">N</text>
<!-- LiPF6 -->
<g stroke="#e8302a" stroke-width="1.8" fill="none">
 <path d="M286 920 L286 931 M261 941 L277 941 M295 941 L310 941 M292 933 L301 926 M280 950 L268 958 M286 951 L286 963"/>
</g>
<g font-size="19" fill="#e8302a" text-anchor="middle">
 <text x="221" y="948">Li</text><text x="234" y="938" font-size="12">+</text>
 <text x="286" y="948">P</text><text x="286" y="919">F</text><text x="309" y="928">F</text><text x="252" y="949">F</text><text x="319" y="949">F</text><text x="261" y="971">F</text><text x="286" y="980">F</text>
 <text x="331" y="908" font-size="14">−</text>
</g>
<!-- LiFSI -->
<g stroke="#111" stroke-width="1.6" fill="none">
 <path d="M496 1015 L505 1022 M494 1018 L503 1025 M519 1030 L532 1023 M549 1023 L561 1030 M586 1015 L577 1022 M588 1018 L579 1025 M505 1036 L490 1043 M576 1036 L593 1043 M510 1040 L510 1051 M514 1040 L514 1051 M567 1040 L567 1051 M571 1040 L571 1051"/>
</g>
<g font-size="19" fill="#111" text-anchor="middle">
 <text x="513" y="997">Li</text><text x="526" y="987" font-size="12">+</text>
 <text x="489" y="1017">O</text><text x="541" y="1021">N</text><text x="551" y="1011" font-size="12">−</text><text x="593" y="1017">O</text>
 <text x="512" y="1038">S</text><text x="569" y="1038">S</text>
 <text x="483" y="1054">F</text><text x="600" y="1054">F</text>
 <text x="512" y="1069">O</text><text x="569" y="1069">O</text>
</g>
<text x="368" y="1120" font-size="21" fill="#222" text-anchor="middle">(c)</text>

<!-- ================= PANEL (d) ================= -->
<text x="995" y="609" font-size="21" fill="#111" textLength="423" lengthAdjust="spacingAndGlyphs">LiPF<tspan font-size="13" dy="4">6</tspan><tspan dy="-4">+CH</tspan><tspan font-size="13" dy="4">3</tspan><tspan dy="-4">CN → Li</tspan><tspan font-size="13" dy="-8">+</tspan><tspan dy="8">+PF</tspan><tspan font-size="13" dy="4">5</tspan><tspan dy="-4">+</tspan><tspan font-size="13" dy="-8">−</tspan><tspan dy="8">CH</tspan><tspan font-size="13" dy="4">2</tspan><tspan dy="-4">CN+HF</tspan></text>
<rect x="886" y="620" width="682" height="466" fill="#000"/>
<use href="#cell" x="931" y="658"/>
<use href="#cell" x="1217" y="658"/>
<use href="#cell" x="931" y="853"/>
<use href="#cell" x="1217" y="853"/>
<g fill="#80dede"><ellipse cx="1510" cy="692" rx="6" ry="5"/><ellipse cx="1510" cy="887" rx="6" ry="5"/></g>
<g fill="#2b2bd0"><ellipse cx="918" cy="736" rx="5" ry="3"/><ellipse cx="918" cy="931" rx="5" ry="3"/></g>
<g stroke="#fff" stroke-width="4" stroke-dasharray="4 4" fill="none">
 <rect x="931" y="658" width="572" height="394"/>
 <line x1="1217" y1="658" x2="1217" y2="1052"/>
 <line x1="931" y1="855" x2="1503" y2="855"/>
</g>
<circle cx="1234" cy="847" r="9" fill="none" stroke="#30c030" stroke-width="1.5" stroke-dasharray="3 2"/>
<g stroke="#f0f020" stroke-width="3" fill="none" stroke-linecap="round" stroke-linejoin="round">
 <path d="M1162 621 L1205 766 M1211 743 L1205 766 L1187 750"/>
 <path d="M1246 621 L1250 691 M1262 670 L1250 691 L1236 672"/>
 <path d="M1360 621 L1292 712 M1314 703 L1292 712 L1294 688"/>
 <path d="M1456 621 L1314 829 M1336 820 L1314 829 L1315 805"/>
</g>
<text x="1232" y="653" font-size="21" fill="#f0f020" text-anchor="middle">B</text>
<text x="1520" y="853" font-size="21" fill="#e03030" text-anchor="middle">A</text>
<text x="1216" y="1124" font-size="21" fill="#222" text-anchor="middle">(d)</text>
</svg>
</body></html>
